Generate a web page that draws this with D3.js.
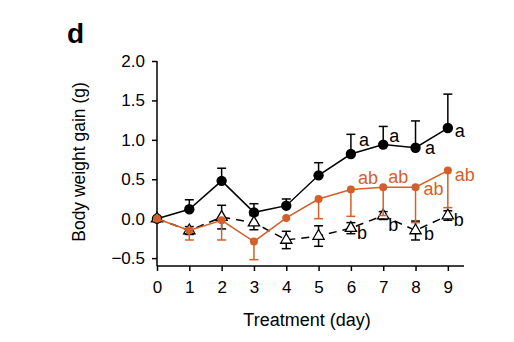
<!DOCTYPE html>
<html>
<head>
<meta charset="utf-8">
<script src="https://d3js.org/d3.v7.min.js"></script>
<style>
  body { margin: 0; background: #fff; }
  text { font-family: "Liberation Sans", Arial, sans-serif; }
</style>
</head>
<body>
<script>
// data
var days = [0, 1, 2, 3, 4, 5, 6, 7, 8, 9];
var blackMean = [0, 0.12, 0.48, 0.08, 0.165, 0.55, 0.82, 0.94, 0.90, 1.15];
var blackErr  = [0, 0.12, 0.16, 0.11, 0.085, 0.16, 0.25, 0.23, 0.34, 0.43];
var orangeMean = [0, -0.15, -0.02, -0.29, 0.01, 0.25, 0.37, 0.40, 0.40, 0.61];
var orangeErr  = [0, 0.12, 0.25, 0.23, 0, 0.25, 0.34, 0.36, 0.45, 0.47];
var triMean = [0, -0.15, 0.02, -0.05, -0.27, -0.22, -0.12, 0.04, -0.15, 0.04];
var triErr  = [0, 0.05, 0.15, 0.09, 0.11, 0.13, 0.07, 0.05, 0.12, 0.06];
var blackLetters  = ["", "", "", "", "", "", "a", "a", "a", "a"];
var orangeLetters = ["", "", "", "", "", "", "ab", "ab", "ab", "ab"];
var triLetters    = ["", "", "", "", "", "", "b", "b", "b", "b"];
var yTicks = [-0.5, 0, 0.5, 1.0, 1.5, 2.0];

var orange = "#d45f28";
var W = 514, H = 342;

var svg = d3.select("body").append("svg")
    .attr("width", W).attr("height", H);

var x = d3.scaleLinear().domain([0, 9.5]).range([157, 464]);
var y = d3.scaleLinear().domain([-0.6, 2.0]).range([266, 61]);

// axes
var yAxis = svg.append("g")
    .attr("transform", "translate(157,0)")
    .call(d3.axisLeft(y).tickValues(yTicks).tickSize(5).tickPadding(7)
        .tickFormat(function(d) { return d < 0 ? "\u2212" + d3.format(".1f")(-d) : d3.format(".1f")(d); }));
var xAxis = svg.append("g")
    .attr("transform", "translate(0,266)")
    .call(d3.axisBottom(x).tickValues(days).tickSize(5).tickPadding(10).tickFormat(d3.format("d")));

[yAxis, xAxis].forEach(function(g) {
  g.select(".domain").attr("stroke", "#000").attr("stroke-width", 1.5)
    .attr("d", g === yAxis ? "M0,61V266" : "M157,0H464");
  g.selectAll(".tick line").attr("stroke", "#000").attr("stroke-width", 1.5);
  g.selectAll(".tick text").attr("fill", "#000").style("font-size", "17px");
});

svg.append("text").attr("x", 67).attr("y", 43)
  .style("font-size", "28px").style("font-weight", "bold").text("d");

svg.append("text").attr("transform", "translate(85,162) rotate(-90)")
  .attr("text-anchor", "middle").style("font-size", "17.5px")
  .text("Body weight gain (g)");

svg.append("text").attr("x", 307).attr("y", 326)
  .attr("text-anchor", "middle").style("font-size", "18px")
  .text("Treatment (day)");

function rows(mean, err, letters) {
  return days.map(function(d, i) { return { d: d, m: mean[i], e: err[i], l: letters[i] }; });
}

var line = d3.line().x(function(r) { return x(r.d); }).y(function(r) { return y(r.m); });

function errBars(data, color, dir) {
  var g = svg.append("g").attr("stroke", color).attr("stroke-width", 1.5);
  data.filter(function(r) { return r.e > 0; }).forEach(function(r) {
    var ends = dir === "up" ? [r.m + r.e] : dir === "down" ? [r.m - r.e] : [r.m + r.e, r.m - r.e];
    ends.forEach(function(v) {
      g.append("line").attr("x1", x(r.d)).attr("x2", x(r.d)).attr("y1", y(r.m)).attr("y2", y(v));
      g.append("line").attr("x1", x(r.d) - 4.5).attr("x2", x(r.d) + 4.5).attr("y1", y(v)).attr("y2", y(v));
    });
  });
}

function letters(data, color, dx, dy) {
  svg.append("g").selectAll("text").data(data.filter(function(r) { return r.l; }))
    .enter().append("text")
    .attr("x", function(r, i) { return x(r.d) + dx[i]; })
    .attr("y", function(r, i) { return y(r.m) + dy[i]; })
    .attr("fill", color).style("font-size", "18px")
    .text(function(r) { return r.l; });
}

var black = rows(blackMean, blackErr, blackLetters);
var org = rows(orangeMean, orangeErr, orangeLetters);
var tri = rows(triMean, triErr, triLetters);

// black series
errBars(black, "#000", "up");
svg.append("path").datum(black).attr("d", line).attr("fill", "none")
  .attr("stroke", "#000").attr("stroke-width", 1.5);
svg.append("g").selectAll("circle").data(black).enter().append("circle")
  .attr("cx", function(r) { return x(r.d); }).attr("cy", function(r) { return y(r.m); })
  .attr("r", 5.2).attr("fill", "#000");

// triangle series
errBars(tri, "#000", "both");
svg.append("path").datum(tri).attr("d", line).attr("fill", "none")
  .attr("stroke", "#000").attr("stroke-width", 1.5).attr("stroke-dasharray", "8,6");
svg.append("g").selectAll("path").data(tri).enter().append("path")
  .attr("d", d3.symbol().type(d3.symbolTriangle).size(55))
  .attr("transform", function(r) { return "translate(" + x(r.d) + "," + y(r.m) + ")"; })
  .attr("fill", "#fff").attr("stroke", "#000").attr("stroke-width", 1.3);

// orange series
errBars(org, orange, "down");
svg.append("path").datum(org).attr("d", line).attr("fill", "none")
  .attr("stroke", orange).attr("stroke-width", 1.5);
svg.append("g").selectAll("circle").data(org).enter().append("circle")
  .attr("cx", function(r) { return x(r.d); }).attr("cy", function(r) { return y(r.m); })
  .attr("r", 4).attr("fill", orange);

// significance letters
letters(black, "#000", [8, 6, 9.5, 7], [-8, -3, 6, 9]);
letters(org, orange, [7, 5, 8, 7], [-5.5, -4, 8, 10]);
letters(tri, "#000", [6, 5, 8.5, 6], [11, 15, 9, 10]);
</script>
</body>
</html>
